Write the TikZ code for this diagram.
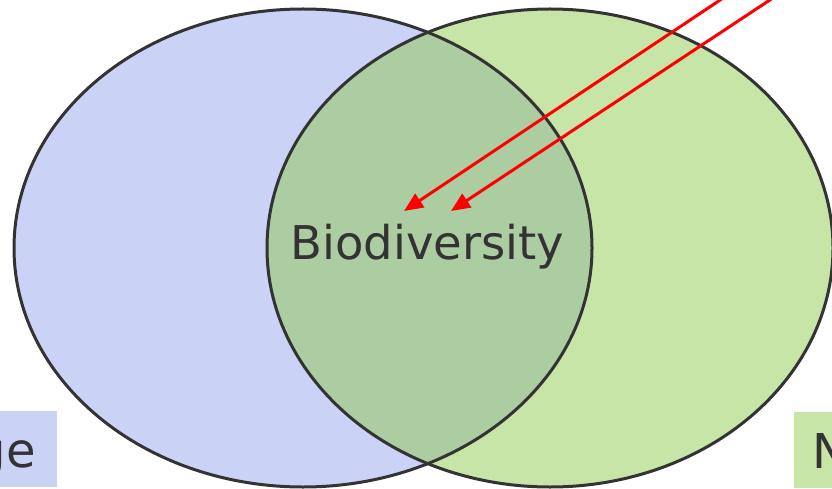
\documentclass[tikz,border=0pt]{standalone}
\usepackage{fontspec}
\setmainfont{DejaVu Sans}
\usetikzlibrary{shapes.geometric,arrows.meta}
\definecolor{setblue}{HTML}{CAD3F5}
\definecolor{setgreen}{HTML}{C7E5A7}
\definecolor{setboth}{HTML}{ABCDA1}
\definecolor{ink}{HTML}{333333}
\tikzset{
  setfill/.style={ellipse, draw=none, inner sep=0pt},
  rim/.style={draw=ink, line width=3pt},
  pointer/.style={draw=red, line width=3pt, -{Triangle[length=19pt,width=16pt]}},
  tagbox/.style={inner ysep=0pt, text height=56pt, text depth=20pt, text=ink,
    font=\fontsize{48}{50}\selectfont},
}
\begin{document}
\begin{tikzpicture}[x=1pt, y=-1pt]
  \useasboundingbox (0,0) rectangle (832,489);
  % the two sets
  \node[setfill, fill=setblue, minimum width=578pt, minimum height=478pt] (L) at (303,248) {};
  \node[setfill, fill=setgreen, minimum width=566pt, minimum height=478pt] (R) at (550,248) {};
  % their overlap
  \begin{scope}
    \clip (L.center) ellipse [x radius=289pt, y radius=239pt];
    \fill[setboth] (R.center) ellipse [x radius=283pt, y radius=239pt];
  \end{scope}
  % outlines
  \draw[rim] (L.center) ellipse [x radius=289pt, y radius=239pt];
  \draw[rim] (R.center) ellipse [x radius=283pt, y radius=239pt];
  % centre label
  \node[anchor=base, inner sep=0pt, text=ink, font=\fontsize{46.5}{48}\selectfont] (bio) at (427.5,259) {Biodiversity};
  % side labels
  \node[tagbox, fill=setblue, inner xsep=21pt, anchor=base east] (lefttag) at (57,467) {ge};
  \node[tagbox, fill=setgreen, inner xsep=18pt, anchor=base west] (righttag) at (794,468) {N};
  % pointers into the overlap
  \coordinate (src1) at (870,-100);
  \coordinate (src2) at (921,-100);
  \coordinate (tip1) at (404,211);
  \coordinate (tip2) at (451,211);
  \draw[pointer] (src1) -- (tip1);
  \draw[pointer] (src2) -- (tip2);
\end{tikzpicture}
\end{document}
